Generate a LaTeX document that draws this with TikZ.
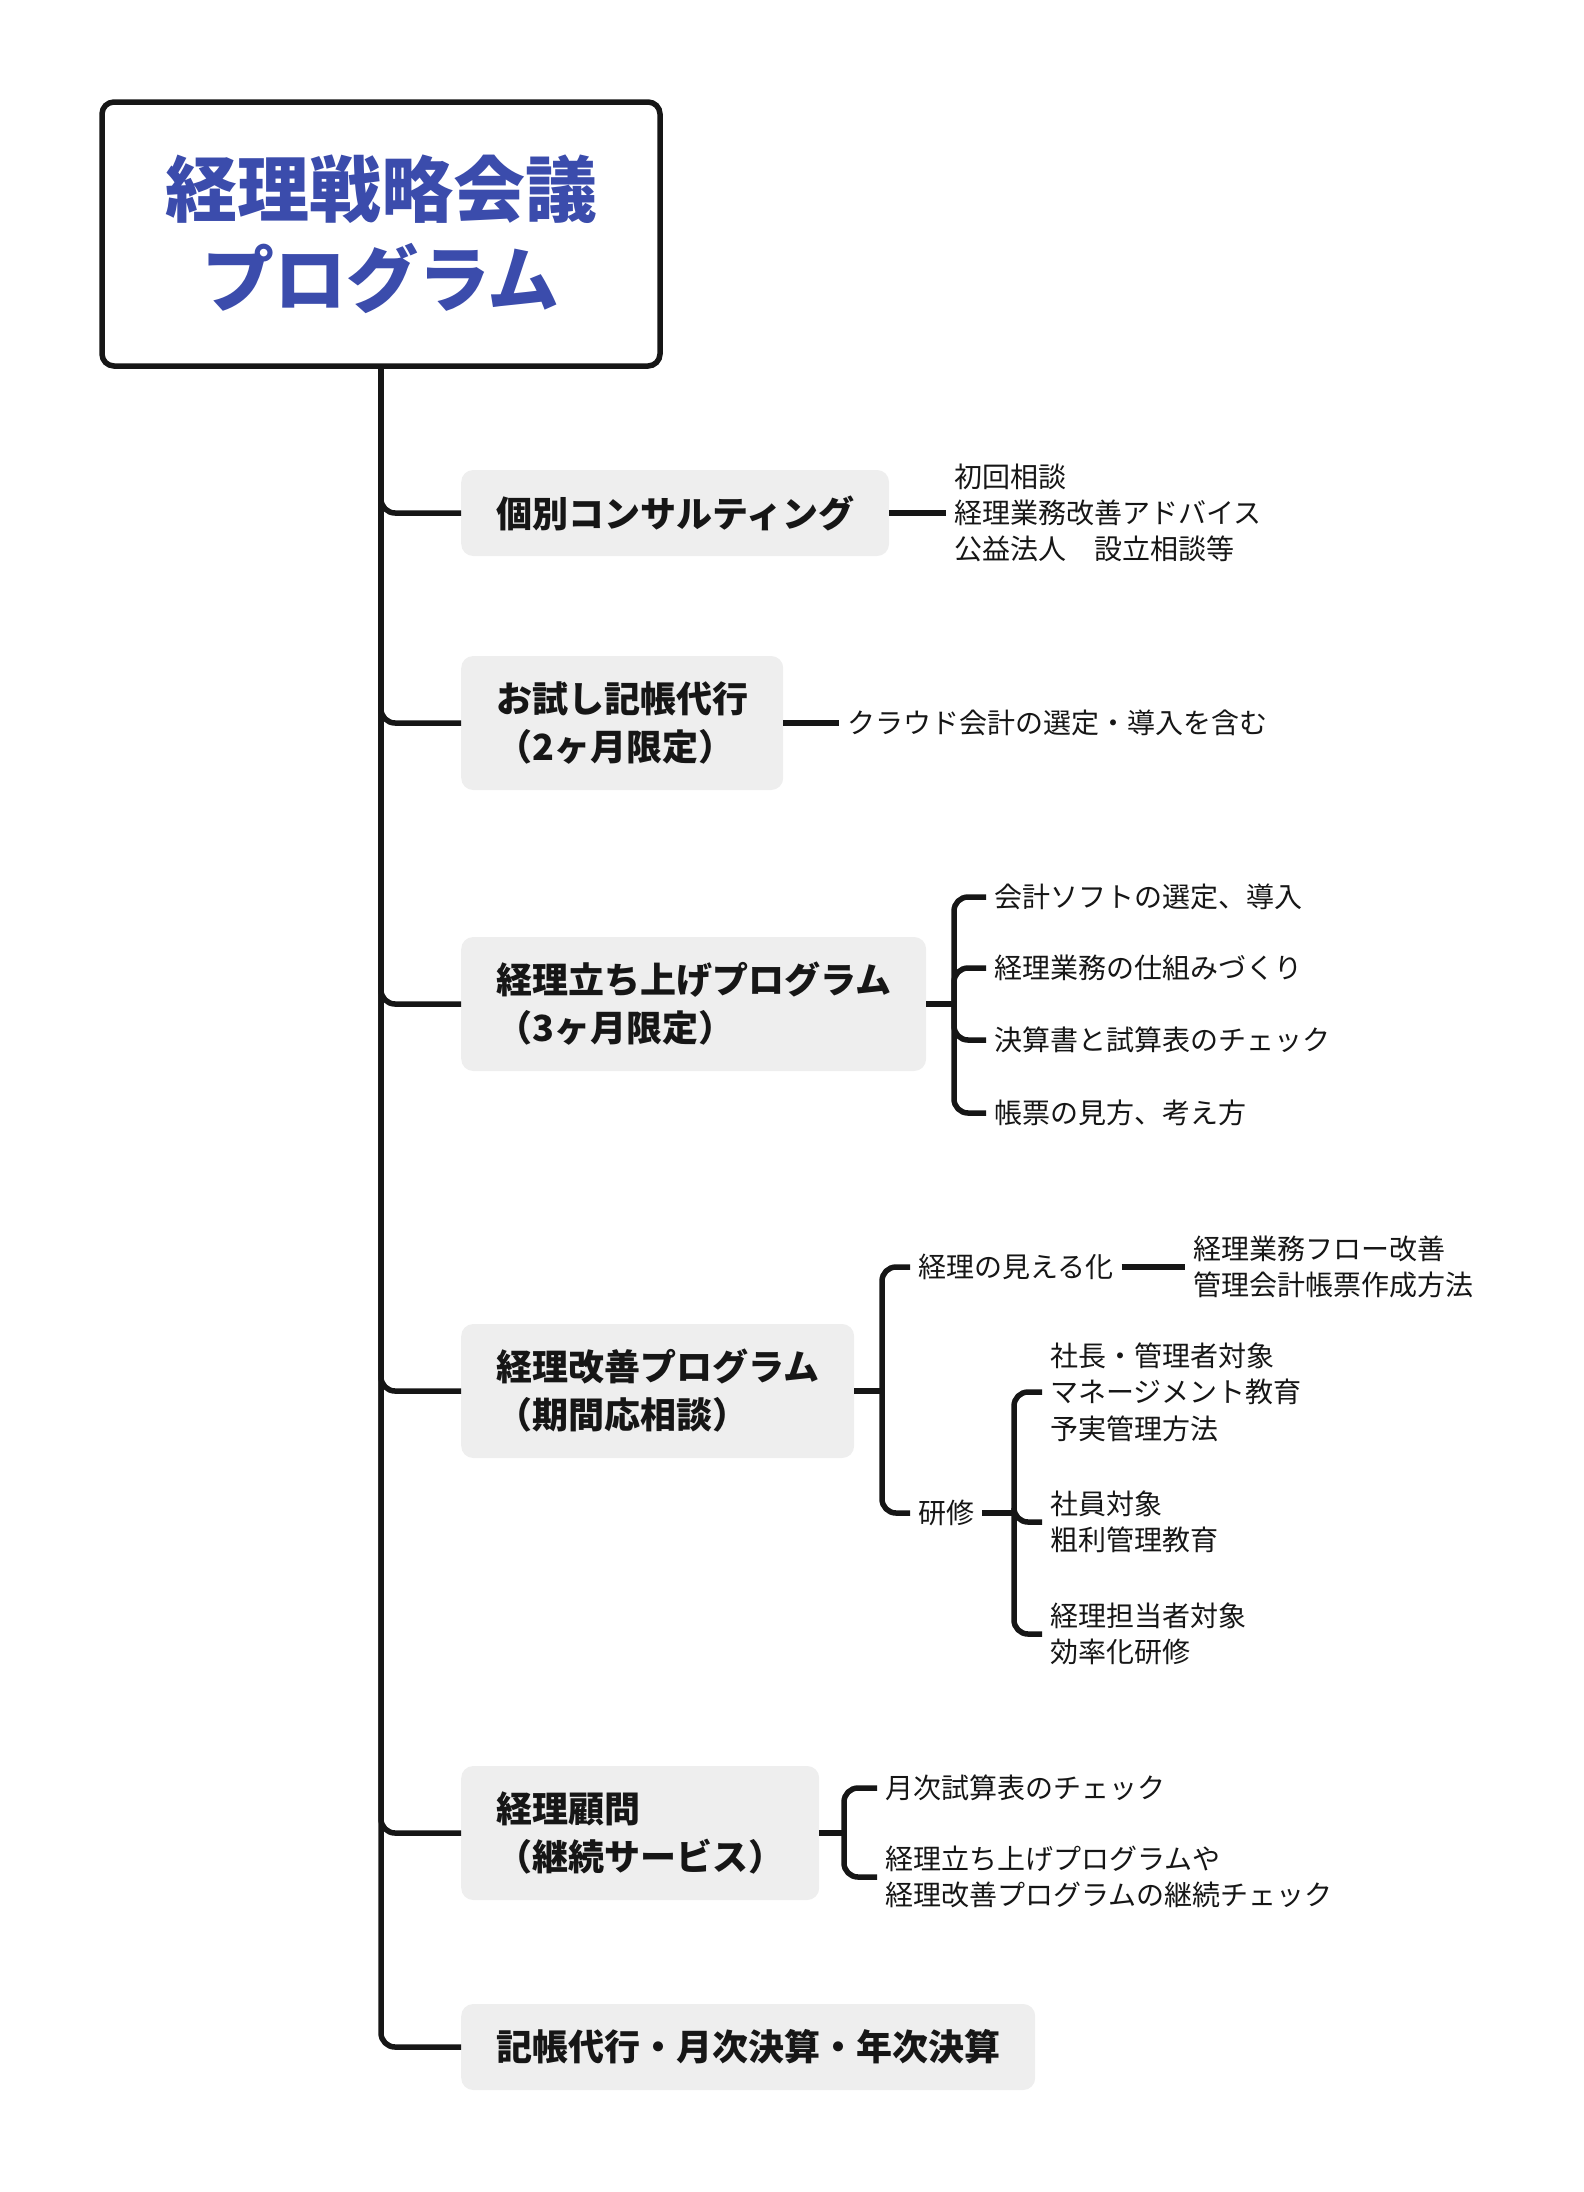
\documentclass[tikz,border=0pt]{standalone}
\usepackage{fontspec}
\setmainfont{Noto Sans CJK JP}
\usepackage{tikz}
\definecolor{titleblue}{RGB}{59,76,172}
\definecolor{inkgray}{RGB}{22,22,22}
\definecolor{boxgray}{RGB}{238,238,238}

\begin{document}
\begin{tikzpicture}[x=1pt, y=-1pt,
    link/.style={draw=inkgray, line width=5.5pt, rounded corners=14pt},
    topic/.style={fill=boxgray, rounded corners=12pt, anchor=west, align=left,
      inner xsep=35pt, inner ysep=0pt, text=inkgray,
      font=\fontsize{36}{48}\selectfont\bfseries},
    leaf/.style={anchor=west, align=left, inner xsep=8pt, inner ysep=0pt,
      text=inkgray, font=\fontsize{28}{36.4}\selectfont}]
  \useasboundingbox (0,0) rectangle (1584,2192);

  \node[draw=inkgray, line width=5.5pt, rounded corners=12pt, fill=white,
    minimum width=558pt, minimum height=264pt, align=center, text=titleblue,
    font=\fontsize{72}{90}\selectfont\bfseries] (root) at (381,234) {経理戦略会議\\プログラム};

  \node[topic, minimum height=86pt] (consult) at (461,513) {個別コンサルティング};
  \node[topic, minimum height=134pt] (trial) at (461,723) {お試し記帳代行\\（2ヶ月限定）};
  \node[topic, minimum height=134pt] (launch) at (461,1004) {経理立ち上げプログラム\\（3ヶ月限定）};
  \node[topic, minimum height=134pt] (improve) at (461,1391) {経理改善プログラム\\（期間応相談）};
  \node[topic, minimum height=134pt] (advisor) at (461,1833) {経理顧問\\（継続サービス）};
  \node[topic, minimum height=86pt] (bookkeep) at (461,2047) {記帳代行・月次決算・年次決算};

  \foreach \b in {consult,trial,launch,improve,advisor,bookkeep}
    \draw[link] (root.south) |- (\b.west);

  \node[leaf] (consultA) at (946,513) {初回相談\\経理業務改善アドバイス\\公益法人　設立相談等};
  \draw[link] (consult.east) -- (consultA.west);

  \node[leaf] (trialA) at (839,723) {クラウド会計の選定・導入を含む};
  \draw[link] (trial.east) -- (trialA.west);

  \coordinate (launchJ) at (954,1004);
  \node[leaf] (launchA) at (986,897) {会計ソフトの選定、導入};
  \node[leaf] (launchB) at (986,968) {経理業務の仕組みづくり};
  \node[leaf] (launchC) at (986,1040) {決算書と試算表のチェック};
  \node[leaf] (launchD) at (986,1113) {帳票の見方、考え方};
  \draw[link] (launch.east) -- (launchJ);
  \foreach \n in {launchA,launchB,launchC,launchD}
    \draw[link] (launchJ) |- (\n.west);

  \coordinate (improveJ) at (882,1391);
  \node[leaf] (visual) at (910,1267) {経理の見える化};
  \node[leaf] (visualA) at (1185,1267) {経理業務フロー改善\\管理会計帳票作成方法};
  \node[leaf] (training) at (910,1513) {研修};
  \draw[link] (improve.east) -- (improveJ);
  \draw[link] (improveJ) |- (visual.west);
  \draw[link] (improveJ) |- (training.west);
  \draw[link] (visual.east) -- (visualA.west);

  \coordinate (trainingJ) at (1014,1513);
  \node[leaf] (trainingA) at (1042,1392) {社長・管理者対象\\マネージメント教育\\予実管理方法};
  \node[leaf] (trainingB) at (1042,1522) {社員対象\\粗利管理教育};
  \node[leaf] (trainingC) at (1042,1634) {経理担当者対象\\効率化研修};
  \draw[link] (training.east) -- (trainingJ);
  \foreach \n in {trainingA,trainingB,trainingC}
    \draw[link] (trainingJ) |- (\n.west);

  \coordinate (advisorJ) at (844,1833);
  \node[leaf] (advisorA) at (877,1788) {月次試算表のチェック};
  \node[leaf] (advisorB) at (877,1877) {経理立ち上げプログラムや\\経理改善プログラムの継続チェック};
  \draw[link] (advisor.east) -- (advisorJ);
  \foreach \n in {advisorA,advisorB}
    \draw[link] (advisorJ) |- (\n.west);
\end{tikzpicture}
\end{document}
